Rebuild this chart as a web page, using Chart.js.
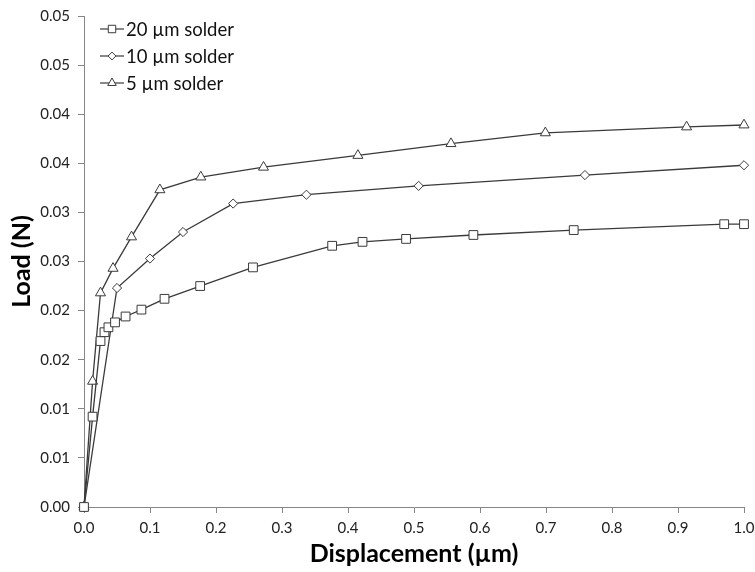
<!DOCTYPE html>
<html>
<head>
<meta charset="utf-8">
<script src="https://cdn.jsdelivr.net/npm/chart.js@4/dist/chart.umd.min.js"></script>
<style>
html,body{margin:0;padding:0;background:#ffffff;}
#wrap{width:755px;height:572px;position:relative;}
</style>
</head>
<body>
<div id="wrap"><canvas id="c" width="755" height="572"></canvas></div>
<script>
// ---- data ----
const seriesLabels = ['20 µm solder', '10 µm solder', '5 µm solder'];

const disp20 = [0, 0.013, 0.025, 0.031, 0.037, 0.047, 0.063, 0.087, 0.122, 0.176, 0.256, 0.376, 0.422, 0.488, 0.590, 0.742, 0.970, 1.0];
const load20 = [0, 0.0092, 0.0169, 0.0178, 0.0183, 0.0188, 0.0194, 0.0201, 0.0212, 0.0225, 0.0244, 0.0266, 0.0270, 0.0273, 0.0277, 0.0282, 0.0288, 0.0288];

const disp10 = [0, 0.050, 0.100, 0.150, 0.226, 0.337, 0.507, 0.759, 1.0];
const load10 = [0, 0.0223, 0.0253, 0.0280, 0.0309, 0.0318, 0.0327, 0.0338, 0.0348];

const disp5 = [0, 0.013, 0.025, 0.044, 0.072, 0.115, 0.177, 0.272, 0.415, 0.556, 0.699, 0.913, 1.0];
const load5 = [0, 0.0128, 0.0218, 0.0243, 0.0275, 0.0323, 0.0336, 0.0346, 0.0358, 0.0370, 0.0381, 0.0387, 0.0389];

const yTickLabels = ['0.00', '0.01', '0.01', '0.02', '0.02', '0.03', '0.03', '0.04', '0.04', '0.05', '0.05'];
const xTickLabels = ['0.0', '0.1', '0.2', '0.3', '0.4', '0.5', '0.6', '0.7', '0.8', '0.9', '1.0'];

const xTitle = 'Displacement (µm)';
const yTitle = 'Load (N)';

// ---- styling ----
const FONT = 'Lato, "Open Sans", "DejaVu Sans", sans-serif';
const LINE = '#3a3a3a';
const AXIS = '#868686';

function pts(xs, ys) { return xs.map((x, i) => ({x: x, y: ys[i]})); }

const styles = [
  {pointStyle: 'rect', pointRadius: 6.2},
  {pointStyle: 'rectRot', pointRadius: 4.6},
  {pointStyle: 'triangle', pointRadius: 5.8}
];
const dataPairs = [[disp20, load20], [disp10, load10], [disp5, load5]];

const datasets = dataPairs.map((p, i) => ({
  label: seriesLabels[i],
  data: pts(p[0], p[1]),
  borderColor: LINE,
  borderWidth: 1.3,
  backgroundColor: '#ffffff',
  pointBackgroundColor: '#ffffff',
  pointBorderColor: LINE,
  pointBorderWidth: 1,
  pointStyle: styles[i].pointStyle,
  pointRadius: styles[i].pointRadius,
  pointHoverRadius: styles[i].pointRadius,
  fill: false,
  clip: false,
  tension: 0
}));

// legend drawn inside the plot area, line + marker like the reference
const insideLegend = {
  id: 'insideLegend',
  afterDraw(chart) {
    const ctx = chart.ctx;
    const x0 = 100, x1 = 124, y0 = 29, dy = 27;
    ctx.save();
    chart.data.datasets.forEach((ds, i) => {
      const y = y0 + i * dy;
      ctx.strokeStyle = ds.borderColor;
      ctx.lineWidth = 1.2;
      ctx.beginPath();
      ctx.moveTo(x0, y);
      ctx.lineTo(x1, y);
      ctx.stroke();
      ctx.fillStyle = '#ffffff';
      ctx.lineWidth = 1;
      Chart.helpers.drawPoint(ctx, {
        pointStyle: ds.pointStyle,
        radius: ds.pointRadius * 0.85,
        rotation: 0,
        borderWidth: 1
      }, (x0 + x1) / 2, y);
      ctx.fillStyle = '#111111';
      ctx.font = '18.5px ' + FONT;
      ctx.textAlign = 'left';
      ctx.textBaseline = 'middle';
      ctx.fillText(ds.label, x1 + 2, y + 1);
    });
    ctx.restore();
  }
};

new Chart(document.getElementById('c'), {
  type: 'line',
  data: {datasets: datasets},
  plugins: [insideLegend],
  options: {
    responsive: false,
    animation: false,
    layout: {padding: {left: 0, right: 11, top: 16, bottom: 0}},
    plugins: {legend: {display: false}, tooltip: {enabled: false}},
    scales: {
      x: {
        type: 'linear',
        min: 0, max: 1,
        afterFit(s) { s.height = 65; s.paddingLeft = 0; s.paddingRight = 0; },
        border: {display: true, color: AXIS, width: 1},
        grid: {display: true, drawOnChartArea: false, drawTicks: true, tickLength: 6, color: AXIS},
        ticks: {
          stepSize: 0.1,
          padding: 6,
          color: '#222222',
          font: {family: FONT, size: 15},
          maxRotation: 0,
          callback: (v, i) => xTickLabels[i]
        },
        title: {
          display: true,
          text: xTitle,
          color: '#000000',
          font: {family: FONT, size: 25, weight: 'bold'},
          padding: {top: 0, bottom: 3}
        }
      },
      y: {
        type: 'linear',
        min: 0, max: 0.05,
        afterFit(s) { s.width = 84; s.paddingTop = 0; s.paddingBottom = 0; },
        border: {display: true, color: AXIS, width: 1},
        grid: {display: true, drawOnChartArea: false, drawTicks: true, tickLength: 6, color: AXIS},
        ticks: {
          stepSize: 0.005,
          padding: 8,
          color: '#222222',
          font: {family: FONT, size: 15},
          callback: (v, i) => yTickLabels[i]
        },
        title: {
          display: true,
          text: yTitle,
          color: '#000000',
          font: {family: FONT, size: 25, weight: 'bold'},
          padding: {top: 7, bottom: 0}
        }
      }
    }
  }
});
</script>
</body>
</html>
